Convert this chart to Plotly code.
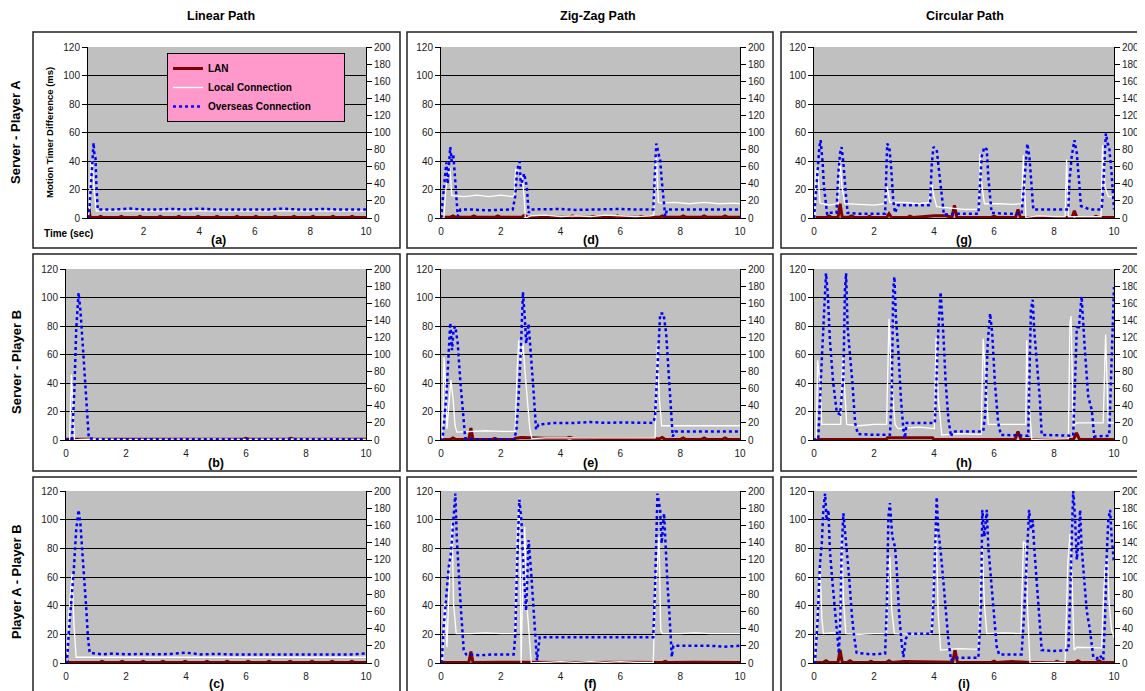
import plotly.graph_objects as go

# ---------------- data (LAN / Local in ms on left axis, Overseas on right axis) -------------
col_titles = ["Linear Path", "Zig-Zag Path", "Circular Path"]
row_titles = ["Server - Player A", "Server - Player B", "Player A - Player B"]
panel_labels = ["(a)", "(d)", "(g)", "(b)", "(e)", "(h)", "(c)", "(f)", "(i)"]
series_names = ["LAN", "Local Connection", "Overseas Connection"]
x_ticks = [0, 2, 4, 6, 8, 10]
left_ticks = [0, 20, 40, 60, 80, 100, 120]
right_ticks = [0, 20, 40, 60, 80, 100, 120, 140, 160, 180, 200]

# (a) Linear, Server - Player A
a_lan_t = [0, 0.03, 0.08, 0.35, 0.45, 0.55, 1.1, 1.2, 1.3, 1.77, 1.87, 1.97, 2.5, 2.6, 2.7, 3.17, 3.27, 3.37,
           3.86, 3.96, 4.06, 4.54, 4.64, 4.74, 5.26, 5.36, 5.46, 5.94, 6.04, 6.14, 6.63, 6.73, 6.83, 7.31, 7.41,
           7.51, 7.99, 8.09, 8.19, 8.71, 8.81, 8.91, 9.4, 9.5, 9.6, 10]
a_lan_v = [0, 7, 0.3, 0.3, 1.2, 0.3, 0.3, 1.2, 0.3, 0.3, 1.2, 0.3, 0.3, 1.2, 0.3, 0.3, 1.2, 0.3,
           0.3, 1.2, 0.3, 0.3, 1.2, 0.3, 0.3, 1.2, 0.3, 0.3, 1.2, 0.3, 0.3, 1.2, 0.3, 0.3, 1.2,
           0.3, 0.3, 1.2, 0.3, 0.3, 1.2, 0.3, 0.3, 1.2, 0.3, 0.3]
a_loc_t = [0, 0.05, 0.1, 0.15, 0.22, 0.3, 1, 2, 3, 4, 5, 6, 7, 8, 9, 10]
a_loc_v = [0, 5, 38, 40, 20, 5, 5, 4.8, 5, 5, 4.8, 5, 5, 4.8, 5, 5]
a_ovs_t = [0, 0.05, 0.1, 0.15, 0.2, 0.23, 0.27, 0.3, 0.35, 0.4, 1, 1.5, 2, 2.5, 3, 3.5, 4, 4.5, 5, 5.5,
           6, 6.5, 7, 7.5, 8, 8.5, 9, 9.5, 10]
a_ovs_v = [0, 10, 35, 65, 88, 75, 70, 40, 10, 10, 10, 11, 10, 10, 10.5, 10, 11, 10, 10, 10.5,
           10, 10, 11, 10, 10, 10.5, 10, 10, 10]

# (d) Zig-Zag, Server - Player A
d_lan_t = [0, 0.3, 0.4, 0.5, 1.0, 1.1, 1.2, 1.8, 1.9, 2.0, 2.7, 2.8, 2.9, 3.5, 3.6, 3.7, 4.3, 4.4, 4.5,
           5.0, 5.1, 5.2, 5.8, 5.9, 6.0, 6.6, 6.7, 6.8, 7.3, 7.4, 7.5, 8.0, 8.1, 8.2, 8.7, 8.8, 8.9,
           9.4, 9.5, 9.6, 10]
d_lan_v = [0.5, 0.5, 1.5, 0.5, 0.5, 1.5, 0.5, 0.5, 1.5, 0.5, 0.5, 2, 0.5, 0.5, 1.2, 0.5, 0.5, 1.5, 0.5,
           0.5, 1.2, 0.5, 0.5, 1.5, 0.5, 0.5, 1.2, 0.5, 0.5, 1.5, 0.5, 0.5, 1.5, 0.5, 0.5, 1.5, 0.5,
           0.5, 1.5, 0.5, 0.5]
d_loc_t = [0, 0.1, 0.15, 0.22, 0.3, 0.36, 0.42, 0.8, 1.2, 1.6, 2.0, 2.4, 2.45, 2.5, 2.58, 2.65, 2.72,
           2.78, 2.82, 3.0, 3.5, 4.0, 4.5, 5.0, 5.5, 6.0, 6.5, 7.0, 7.12, 7.2, 7.27, 7.35, 7.8, 8.3,
           8.8, 9.3, 9.8, 10]
d_loc_v = [0, 0, 18, 30, 35, 16, 15.5, 15, 16, 15, 16, 15, 16, 34, 33, 30, 28,
           15, 0, 1.5, 2, 1, 1.5, 1, 2, 1.5, 1, 1.5, 2, 45, 11, 10.5, 11, 10,
           11, 10, 10.5, 10]
d_ovs_t = [0, 0.07, 0.13, 0.18, 0.22, 0.26, 0.31, 0.36, 0.41, 0.46, 0.51, 0.56, 0.65, 1.0, 1.5, 2.0,
           2.4, 2.48, 2.54, 2.6, 2.63, 2.67, 2.72, 2.78, 2.87, 2.93, 3.0, 3.5, 4.0, 4.5, 5.0, 5.5,
           6.0, 6.5, 7.0, 7.1, 7.15, 7.2, 7.27, 7.33, 7.38, 7.44, 7.5, 7.56, 8.0, 8.5, 9.0, 9.5, 10]
d_ovs_v = [0, 25, 45, 65, 40, 62, 83, 66, 75, 52, 21, 2, 10, 10, 9, 10,
           10, 25, 52, 64, 66, 37, 45, 52, 37, 6, 10, 10, 10.5, 9.5, 10, 10,
           10.5, 10, 10, 10, 50, 87, 76, 68, 45, 21, 2, 10, 10, 10, 9.5, 10, 10]

# (g) Circular, Server - Player A
g_lan_t = [0, 0.4, 0.5, 0.6, 0.8, 0.87, 0.94, 1.15, 1.25, 1.35, 1.75, 1.85, 1.95, 2.42, 2.5, 2.58,
           3.1, 3.2, 3.3, 3.9, 4.0, 4.4, 4.6, 4.68, 4.76, 5.0, 5.9, 6.0, 6.1, 6.72, 6.8, 6.88, 7.5,
           8.6, 8.68, 8.76, 9.3, 9.4, 9.5, 10]
g_lan_v = [0.3, 0.3, 1.5, 0.3, 0.3, 10, 0.5, 0.5, 1.5, 0.5, 0.3, 1.2, 0.3, 0.3, 3, 0.5,
           0.3, 1.3, 0.3, 1.2, 1.5, 1.5, 0.5, 9, 0.5, 0.3, 0.3, 1.3, 0.3, 0.5, 6, 0.3, 0.3,
           0.3, 5, 0.5, 0.3, 1.2, 0.3, 0.3]
g_loc_t = [0, 0.03, 0.07, 0.12, 0.2, 0.5, 0.81, 0.87, 0.93, 1.03, 1.5, 2.0, 2.37, 2.44, 2.53, 3.0,
           3.5, 3.83, 3.92, 4.0, 4.09, 4.5, 5.0, 5.5, 5.53, 5.59, 5.68, 6.2, 6.6, 6.92, 6.98, 7.06,
           7.5, 8.0, 8.37, 8.42, 8.48, 9.0, 9.57, 9.62, 9.7, 9.81, 10]
g_loc_v = [0, 0, 36, 35, 10.5, 9, 10, 40, 22, 10, 9.5, 9, 10, 22, 11, 11,
           10, 11, 24.5, 15, 8, 7, 6, 6, 45, 24, 10, 10, 9.5, 10, 44, 0.5,
           1.5, 1, 1, 41, 1, 1, 1, 51, 22, 15, 15]
g_ovs_t = [0, 0.03, 0.11, 0.18, 0.22, 0.29, 0.33, 0.39, 0.44, 0.5, 0.75, 0.81, 0.87, 0.92, 0.98,
           1.06, 1.12, 1.5, 2.0, 2.37, 2.4, 2.44, 2.51, 2.57, 2.64, 2.7, 2.8, 3.2, 3.6, 3.87, 3.92,
           3.98, 4.09, 4.17, 4.26, 4.33, 4.8, 5.2, 5.48, 5.53, 5.59, 5.68, 5.76, 5.81, 5.87, 5.92,
           6.4, 6.92, 6.98, 7.06, 7.11, 7.18, 7.23, 7.29, 7.31, 7.8, 8.2, 8.48, 8.51, 8.59, 8.68,
           8.76, 8.83, 8.9, 9.2, 9.59, 9.64, 9.7, 9.73, 9.79, 9.84, 9.92, 10]
g_ovs_v = [0, 14, 56, 83, 91, 64, 37, 14, 4, 6, 6, 52, 76, 83, 64,
           29, 6, 5, 5, 5, 41, 87, 83, 60, 21, 6, 15, 15, 15, 15, 60,
           83, 80, 52, 21, 4, 5, 5, 5, 37, 72, 83, 80, 48, 21, 6,
           5, 5, 29, 68, 87, 72, 45, 14, 10, 10, 10, 10, 41, 72, 91,
           76, 45, 14, 10, 10, 37, 80, 99, 87, 83, 52, 10]

# (b) Linear, Server - Player B
b_lan_t = [0, 1, 2, 3, 4, 5, 5.9, 6.0, 6.1, 7, 7.4, 7.5, 7.6, 8.5, 10]
b_lan_v = [0.5, 0.5, 0.6, 0.5, 0.7, 0.5, 0.5, 1.2, 0.5, 0.5, 0.5, 1.2, 0.5, 0.5, 0.5]
b_loc_t = [0, 0.12, 0.18, 0.28, 0.5, 1, 2, 3, 4, 5, 6, 7, 8, 9, 10]
b_loc_v = [0, 0, 46, 0, 0.5, 0.7, 0.5, 0.7, 0.5, 0.7, 0.5, 0.7, 0.5, 0.7, 0.5]
b_ovs_t = [0, 0.2, 0.28, 0.34, 0.42, 0.48, 0.57, 0.64, 0.72, 0.76, 1.0, 2, 3, 4, 5, 6, 7, 8, 9, 10]
b_ovs_v = [0, 0, 59, 129, 172, 152, 105, 67, 28, 2, 1, 1, 1.5, 1, 1, 1.5, 1, 1, 1.5, 1]

# (e) Zig-Zag, Server - Player B
e_lan_t = [0, 0.3, 0.4, 0.5, 0.93, 1.0, 1.07, 1.7, 1.8, 1.9, 2.4, 2.5, 2.7, 3.0, 3.5, 4.2, 4.3, 4.4,
           5.5, 7.3, 7.4, 7.5, 8.0, 8.1, 8.2, 8.7, 8.8, 8.9, 9.4, 9.5, 9.6, 10]
e_lan_v = [0.3, 0.3, 1.5, 0.3, 0.3, 8.5, 0.3, 0.3, 1.2, 0.3, 0.3, 1.2, 1.8, 1.5, 1.2, 1.2, 1.8, 1.2,
           1.2, 0.8, 1.8, 0.3, 0.3, 1.5, 0.3, 0.3, 1.5, 0.3, 0.3, 1.5, 0.3, 0.3]
e_loc_t = [0, 0.05, 0.1, 0.15, 0.2, 0.27, 0.33, 0.4, 0.47, 0.53, 1.0, 1.5, 2.0, 2.48, 2.55, 2.6,
           2.66, 2.74, 2.82, 2.9, 2.97, 3.04, 3.5, 4.5, 5.5, 6.5, 7.16, 7.24, 7.3, 7.38, 8.0, 9.0, 10]
e_loc_v = [0, 0, 58, 40, 8, 25, 42, 30, 10, 5.5, 6, 6.5, 6, 6, 50, 70,
           55, 68, 45, 25, 8, 1, 1.5, 1.5, 1.5, 1.5, 1.5, 67, 30, 10, 10, 10.5, 10]
e_ovs_t = [0, 0.05, 0.18, 0.24, 0.31, 0.37, 0.42, 0.48, 0.56, 0.65, 0.74, 0.81, 1.2, 1.8, 2.43,
           2.52, 2.59, 2.67, 2.74, 2.8, 2.85, 2.93, 3.0, 3.1, 3.18, 3.26, 3.8, 4.5, 5.0, 5.5, 6.0,
           6.5, 7.1, 7.16, 7.24, 7.33, 7.44, 7.53, 7.6, 7.68, 7.75, 7.83, 8.5, 9.0, 9.5, 10]
e_ovs_v = [0, 0, 51, 94, 137, 105, 129, 133, 113, 67, 28, 2, 0.5, 0.5, 0.5,
           10, 47, 105, 173, 144, 113, 136, 105, 55, 12, 18, 20, 20, 21, 20, 20.5,
           20, 20, 28, 94, 148, 148, 125, 86, 47, 4, 10, 10, 10.5, 10, 10]

# (h) Circular, Server - Player B
h_lan_t = [0, 1.0, 2.0, 2.4, 2.45, 3.2, 3.95, 4.0, 5.0, 6.0, 6.7, 6.8, 6.9, 7.5, 8.0, 8.65, 8.75,
           8.85, 9.5, 10]
h_lan_v = [0.3, 0.5, 0.3, 0.3, 1.5, 1.5, 1.5, 0.3, 0.5, 0.3, 0.3, 6, 0.3, 0.3, 0.5, 0.3, 5,
           0.3, 0.3, 0.3]
h_loc_t = [0, 0.08, 0.12, 0.2, 0.26, 0.5, 0.89, 0.96, 1.09, 1.5, 2.0, 2.42, 2.5, 2.59, 2.7, 2.8,
           3.5, 4.01, 4.07, 4.14, 4.26, 4.8, 5.57, 5.64, 5.81, 6.4, 7.06, 7.09, 7.16, 7.26, 8.0,
           8.48, 8.53, 8.57, 8.64, 8.75, 9.2, 9.64, 9.72, 9.81, 10]
h_loc_v = [0, 0, 56, 40, 11, 11, 11, 58, 11, 10, 11, 11, 85, 40, 11, 8,
           9, 8, 72, 30, 3.5, 4.5, 4, 71, 11, 11, 11, 70, 28, 0.5, 1,
           1, 82, 87, 10, 12, 12, 12, 74, 12, 12]
h_ovs_t = [0, 0.14, 0.26, 0.34, 0.4, 0.46, 0.53, 0.64, 0.76, 0.87, 0.98, 1.03, 1.07, 1.12, 1.2,
           1.28, 1.37, 1.46, 2.0, 2.53, 2.59, 2.64, 2.68, 2.73, 2.81, 2.9, 2.98, 3.03, 3.09, 3.5,
           4.03, 4.14, 4.22, 4.31, 4.39, 4.48, 4.57, 4.62, 5.0, 5.64, 5.7, 5.79, 5.87, 5.94, 6.03,
           6.14, 6.23, 6.8, 7.14, 7.23, 7.29, 7.34, 7.42, 7.53, 7.59, 8.2, 8.64, 8.7, 8.76, 8.83,
           8.92, 9.03, 9.14, 9.26, 9.34, 9.84, 9.92, 10]
h_ovs_v = [0, 0, 94, 164, 195, 171, 117, 67, 32, 30, 74, 175, 195, 132, 101,
           67, 20, 7, 6, 6, 47, 175, 191, 144, 105, 47, 12, 2, 20, 20,
           20, 125, 173, 125, 67, 24, 4, 10, 10, 10, 28, 113, 148, 125, 67,
           20, 6, 5, 5, 152, 164, 129, 94, 47, 6, 5, 5, 67, 132, 132,
           168, 105, 51, 35, 4, 5, 105, 179]

# (c) Linear, Player A - Player B
c_lan_t = [0, 0.02, 0.08, 1.1, 1.2, 1.3, 1.77, 1.87, 1.97, 2.47, 2.57, 2.67, 3.13, 3.23, 3.33, 3.87,
           3.97, 4.07, 4.6, 4.7, 4.8, 5.27, 5.37, 5.47, 5.97, 6.07, 6.17, 6.67, 6.77, 6.87, 7.37,
           7.47, 7.57, 8.1, 8.2, 8.3, 8.77, 8.87, 8.97, 9.43, 9.53, 9.63, 10]
c_lan_v = [7, 2, 0.3, 0.3, 1.2, 0.3, 0.3, 1.2, 0.3, 0.3, 1.2, 0.3, 0.3, 1.2, 0.3, 0.3,
           1.2, 0.3, 0.3, 1.2, 0.3, 0.3, 1.2, 0.3, 0.3, 1.2, 0.3, 0.3, 1.2, 0.3, 0.3,
           1.2, 0.3, 0.3, 1.2, 0.3, 0.3, 1.2, 0.3, 0.3, 1.2, 0.3, 0.3]
c_loc_t = [0, 0.03, 0.1, 0.2, 0.27, 0.34, 1, 2, 3, 4, 5, 6, 7, 8, 9, 10]
c_loc_v = [0, 0, 35, 62, 25, 4, 4, 4.2, 4, 4, 4.2, 4, 4, 4.2, 4, 4]
c_ovs_t = [0, 0.03, 0.09, 0.17, 0.26, 0.34, 0.42, 0.48, 0.53, 0.61, 0.68, 0.73, 0.79, 1.2, 1.6, 2.0,
           2.5, 3.0, 3.5, 4.0, 4.5, 5.0, 5.5, 6.0, 6.5, 7.0, 7.5, 8.0, 8.5, 9.0, 9.5, 10]
c_ovs_v = [0, 0, 34, 65, 108, 155, 178, 162, 131, 96, 61, 30, 12, 10, 11, 10,
           10.5, 10, 10.5, 12, 10, 10.5, 10, 10, 10.5, 10, 10.5, 10, 10, 10.5, 10, 11]

# (f) Zig-Zag, Player A - Player B
f_lan_t = [0, 0.5, 0.93, 1.0, 1.07, 2.0, 3.0, 4.0, 5.0, 6.0, 7.0, 7.4, 7.5, 7.6, 8.5, 9.5, 10]
f_lan_v = [0.3, 0.5, 0.3, 8, 0.3, 0.5, 0.3, 0.6, 0.3, 0.6, 0.3, 0.3, 1.2, 0.3, 0.5, 0.6, 0.3]
f_loc_t = [0, 0.07, 0.12, 0.2, 0.29, 0.37, 0.42, 0.51, 1.0, 1.5, 2.0, 2.48, 2.55, 2.62, 2.66, 2.68,
           2.74, 2.8, 2.87, 2.95, 3.02, 3.5, 4.0, 4.5, 5.0, 5.5, 6.0, 6.5, 7.1, 7.16, 7.24, 7.29,
           7.35, 7.4, 8.0, 8.5, 9.0, 9.5, 10]
f_loc_v = [0, 4, 44, 11, 65, 98.6, 41, 20.5, 20.5, 21, 20.5, 20.5, 90, 115, 41, 0,
           60, 95, 41, 20, 0, 0.5, 1, 0.5, 1, 0.5, 1, 0.5, 0.5, 46, 68, 88,
           23, 20.5, 20.5, 21, 20.5, 20.5, 20.5]
f_ovs_t = [0, 0.03, 0.09, 0.18, 0.26, 0.33, 0.4, 0.48, 0.53, 0.59, 0.67, 0.76, 0.84, 1.3, 1.8, 2.43,
           2.48, 2.54, 2.62, 2.69, 2.76, 2.85, 2.93, 3.01, 3.1, 3.15, 3.21, 3.3, 4.0, 5.0, 6.0, 7.1,
           7.16, 7.24, 7.33, 7.38, 7.46, 7.52, 7.58, 7.64, 7.72, 7.77, 8.5, 9.0, 9.5, 10]
f_ovs_v = [0, 3, 42, 77, 112, 127, 158, 197, 143, 101, 61, 15, 10, 9, 10, 10,
           30, 108, 190, 166, 108, 61, 143, 108, 61, 26, 3, 30, 30, 30, 30, 30,
           89, 197, 178, 139, 174, 127, 89, 57, 7, 20, 20, 20, 19, 20]

# (i) Circular, Player A - Player B
i_lan_t = [0, 0.3, 0.4, 0.5, 0.8, 0.87, 0.94, 1.1, 1.2, 1.3, 1.8, 1.9, 2.0, 2.4, 2.5, 2.6, 3.0, 3.5,
           4.0, 4.4, 4.62, 4.7, 4.78, 5.2, 5.9, 6.0, 6.1, 6.6, 7.2, 8.0, 8.1, 8.2, 8.7, 8.8, 8.9,
           9.4, 9.5, 9.6, 10]
i_lan_v = [0.3, 0.3, 1.5, 0.3, 0.3, 9, 0.5, 0.3, 1.5, 0.3, 0.3, 1.2, 0.3, 0.3, 1.5, 0.3, 1, 1,
           1, 1, 0.5, 9, 0.5, 0.3, 0.3, 1.3, 0.3, 1, 0.3, 0.3, 1.2, 0.3, 0.3, 1.5, 0.3,
           0.3, 1.5, 0.3, 0.3]
i_loc_t = [0, 0.03, 0.12, 0.2, 0.26, 0.31, 0.6, 0.87, 0.92, 0.98, 1.06, 1.5, 2.0, 2.42, 2.48, 2.53,
           2.59, 2.68, 3.2, 3.92, 4.01, 4.07, 4.14, 4.22, 4.8, 5.48, 5.56, 5.61, 5.68, 5.76, 6.3,
           6.9, 6.98, 7.06, 7.12, 7.2, 7.8, 8.37, 8.46, 8.53, 8.61, 8.67, 8.76, 9.2, 9.59, 9.64,
           9.7, 9.78, 9.84, 9.92, 10]
i_loc_v = [0, 0, 34.5, 67, 32, 20.5, 21, 20.5, 88, 46, 20.5, 20, 20.5, 20.5, 65, 74,
           37, 20.5, 20, 20.5, 69, 95, 34.5, 9, 10, 9.5, 65, 81, 41, 20.5, 21,
           20.5, 84.6, 83, 37, 0, 0.5, 0.5, 69, 90, 53, 9, 11, 10.5, 10.5, 41,
           65, 74, 41, 23, 18]
i_ovs_t = [0, 0.03, 0.12, 0.2, 0.26, 0.31, 0.37, 0.42, 0.48, 0.53, 0.61, 0.68, 0.76, 0.83, 0.88,
           0.92, 0.98, 1.03, 1.09, 1.17, 1.26, 1.34, 1.42, 1.9, 2.37, 2.43, 2.48, 2.53, 2.61, 2.7,
           2.76, 2.83, 2.92, 2.98, 3.06, 3.14, 3.5, 3.92, 3.98, 4.03, 4.09, 4.14, 4.22, 4.31, 4.39,
           4.48, 4.57, 4.64, 5.0, 5.48, 5.57, 5.61, 5.68, 5.76, 5.81, 5.9, 5.98, 6.09, 6.17, 6.5,
           6.92, 7.01, 7.09, 7.17, 7.23, 7.29, 7.34, 7.42, 7.5, 7.59, 8.0, 8.48, 8.53, 8.59, 8.64,
           8.7, 8.76, 8.81, 8.87, 8.92, 9.01, 9.09, 9.2, 9.31, 9.42, 9.53, 9.64, 9.7, 9.76, 9.81,
           9.87, 9.92, 10]
i_ovs_v = [0, 0, 50, 116, 139, 178, 197, 166, 178, 131, 96, 69, 34, 11, 54,
           131, 174, 155, 135, 100, 57, 30, 12, 10, 11, 69, 170, 186, 147, 135,
           108, 61, 23, 7, 28, 34, 34, 34, 69, 135, 193, 155, 131, 96, 61,
           26, 3, 6, 6, 6, 69, 178, 147, 178, 135, 96, 57, 19, 10, 10,
           10, 61, 127, 178, 155, 166, 135, 96, 50, 15, 14, 15, 69, 147, 200,
           170, 120, 139, 178, 135, 96, 61, 38, 7, 5, 9, 3, 50, 127, 166,
           178, 147, 116]

# panel order: row by row (a, d, g / b, e, h / c, f, i)
panel_data = [
    (a_lan_t, a_lan_v, a_loc_t, a_loc_v, a_ovs_t, a_ovs_v),
    (d_lan_t, d_lan_v, d_loc_t, d_loc_v, d_ovs_t, d_ovs_v),
    (g_lan_t, g_lan_v, g_loc_t, g_loc_v, g_ovs_t, g_ovs_v),
    (b_lan_t, b_lan_v, b_loc_t, b_loc_v, b_ovs_t, b_ovs_v),
    (e_lan_t, e_lan_v, e_loc_t, e_loc_v, e_ovs_t, e_ovs_v),
    (h_lan_t, h_lan_v, h_loc_t, h_loc_v, h_ovs_t, h_ovs_v),
    (c_lan_t, c_lan_v, c_loc_t, c_loc_v, c_ovs_t, c_ovs_v),
    (f_lan_t, f_lan_v, f_loc_t, f_loc_v, f_ovs_t, f_ovs_v),
    (i_lan_t, i_lan_v, i_loc_t, i_loc_v, i_ovs_t, i_ovs_v),
]

# ---------------- layout geometry (page pixels) ----------------
W, H = 1145, 691
PAGE_OFFSET = 8          # the page body puts the figure 8 px from the top-left corner
FONT = "Liberation Sans, Arial, sans-serif"
TXT = "#1a1a1a"
row_y = [(47, 218), (269, 440), (491, 663)]
col_x = [(66, 366), (441, 740), (814, 1114)]
col_x_first = (88, 366)
frame_x = [(33, 400), (407, 773), (781, 1160)]
frame_y = [(32, 248), (254, 471), (477, 705)]

LAN_COLOR = "#800000"
LOC_COLOR = "#FFFFFF"
OVS_COLOR = "#0000FF"


def px(x):
    return (x - PAGE_OFFSET) / W


def py(y):
    return 1 - (y - PAGE_OFFSET) / H


NB = "\u00a0"
legend_names = ["<b>" + series_names[0] + "</b>",
                "<b>" + series_names[1] + "</b>",
                "<b>" + series_names[2] + "</b>" + NB * 10]

fig = go.Figure()
layout = {}
annotations = []
shapes = []

for k, (lt, lv, ct, cv, ot, ov) in enumerate(panel_data):
    r, c = divmod(k, 3)
    xa = "x" if k == 0 else f"x{k + 1}"
    yl_i, yr_i = 2 * k + 1, 2 * k + 2
    yl = "y" if yl_i == 1 else f"y{yl_i}"
    yr = f"y{yr_i}"
    show = k == 0
    fig.add_trace(go.Scatter(x=lt, y=lv, mode="lines", name=legend_names[0],
                             line=dict(color=LAN_COLOR, width=3), xaxis=xa, yaxis=yl,
                             showlegend=show, legendrank=1))
    fig.add_trace(go.Scatter(x=ct, y=cv, mode="lines", name=legend_names[1],
                             line=dict(color=LOC_COLOR, width=1.3), xaxis=xa, yaxis=yl,
                             showlegend=show, legendrank=2))
    fig.add_trace(go.Scatter(x=ot, y=ov, mode="lines", name=legend_names[2],
                             line=dict(color=OVS_COLOR, width=2.5, dash="dot"), xaxis=xa, yaxis=yr,
                             showlegend=show, legendrank=3))

    x0, x1 = col_x_first if k == 0 else col_x[c]
    y0, y1 = row_y[r]
    xkey = "xaxis" if k == 0 else f"xaxis{k + 1}"
    ylkey = "yaxis" if yl_i == 1 else f"yaxis{yl_i}"
    yrkey = f"yaxis{yr_i}"
    layout[xkey] = dict(domain=[px(x0), px(x1)], anchor=yl, range=[0, 10], automargin=False,
                        tickmode="array", tickvals=(x_ticks[1:] if k == 0 else x_ticks),
                        showgrid=False, zeroline=False, showline=True, linecolor="black",
                        linewidth=1, ticks="", ticklabelstandoff=4,
                        tickfont=dict(family=FONT, size=10, color=TXT))
    layout[ylkey] = dict(domain=[py(y1), py(y0)], anchor=xa, range=[0, 120], automargin=False,
                         tickmode="array", tickvals=left_ticks,
                         showgrid=True, gridcolor="black", gridwidth=1, zeroline=False,
                         showline=True, linecolor="black", linewidth=1,
                         ticks="outside", ticklen=5, tickcolor="black", tickwidth=1,
                         tickfont=dict(family=FONT, size=10, color=TXT))
    layout[yrkey] = dict(overlaying=yl, side="right", anchor=xa, range=[0, 200], automargin=False,
                         tickmode="array", tickvals=right_ticks,
                         showgrid=False, zeroline=False, showline=True, linecolor="black",
                         linewidth=1, ticks="outside", ticklen=5, tickcolor="black", tickwidth=1,
                         tickfont=dict(family=FONT, size=10, color=TXT))
    # panel label
    annotations.append(dict(text="<b>" + panel_labels[k] + "</b>", x=px((x0 + x1) / 2 if k else 218),
                            y=py(frame_y[r][1] - 8 if r < 2 else 684), xref="paper", yref="paper",
                            showarrow=False, xanchor="center", yanchor="middle",
                            font=dict(family=FONT, size=12.5, color="black")))
    # frame
    fx0, fx1 = frame_x[c]
    fy0, fy1 = frame_y[r]
    shapes.append(dict(type="rect", xref="paper", yref="paper", x0=px(fx0), x1=px(fx1),
                       y0=py(fy1), y1=py(fy0), line=dict(color="#222222", width=1.5),
                       fillcolor="rgba(0,0,0,0)", layer="below"))

title_x = [221, 598, 965]
for c, t in enumerate(col_titles):
    annotations.append(dict(text="<b>" + t + "</b>", x=px(title_x[c]), y=py(16), xref="paper",
                            yref="paper", showarrow=False, xanchor="center", yanchor="middle",
                            font=dict(family=FONT, size=12.5, color="black")))

row_centers = [132, 362, 582]
for r, t in enumerate(row_titles):
    annotations.append(dict(text="<b>" + t + "</b>", x=px(16), y=py(row_centers[r]), xref="paper",
                            yref="paper", showarrow=False, textangle=-90, xanchor="center",
                            yanchor="middle", font=dict(family=FONT, size=13, color="black")))

annotations.append(dict(text="<b>Motion Timer Difference (ms)</b>", x=px(50), y=py(132), xref="paper",
                        yref="paper", showarrow=False, textangle=-90, xanchor="center",
                        yanchor="middle", font=dict(family=FONT, size=9.5, color="black")))
annotations.append(dict(text="<b>Time (sec)</b>", x=px(42), y=py(233), xref="paper", yref="paper",
                        showarrow=False, xanchor="left", yanchor="middle",
                        font=dict(family=FONT, size=10, color="black")))

fig.update_layout(
    width=W, height=H,
    margin=dict(l=0, r=0, t=0, b=0, pad=0, autoexpand=False),
    paper_bgcolor="white",
    plot_bgcolor="#C0C0C0",
    font=dict(family=FONT, size=10, color=TXT),
    showlegend=True,
    legend=dict(x=px(167), y=py(53), xanchor="left", yanchor="top", bgcolor="#FF99CC",
                bordercolor="black", borderwidth=1, font=dict(family=FONT, size=10, color="black"),
                tracegroupgap=0),
    annotations=annotations,
    shapes=shapes,
    **layout,
)

fig.write_html("out.html")
